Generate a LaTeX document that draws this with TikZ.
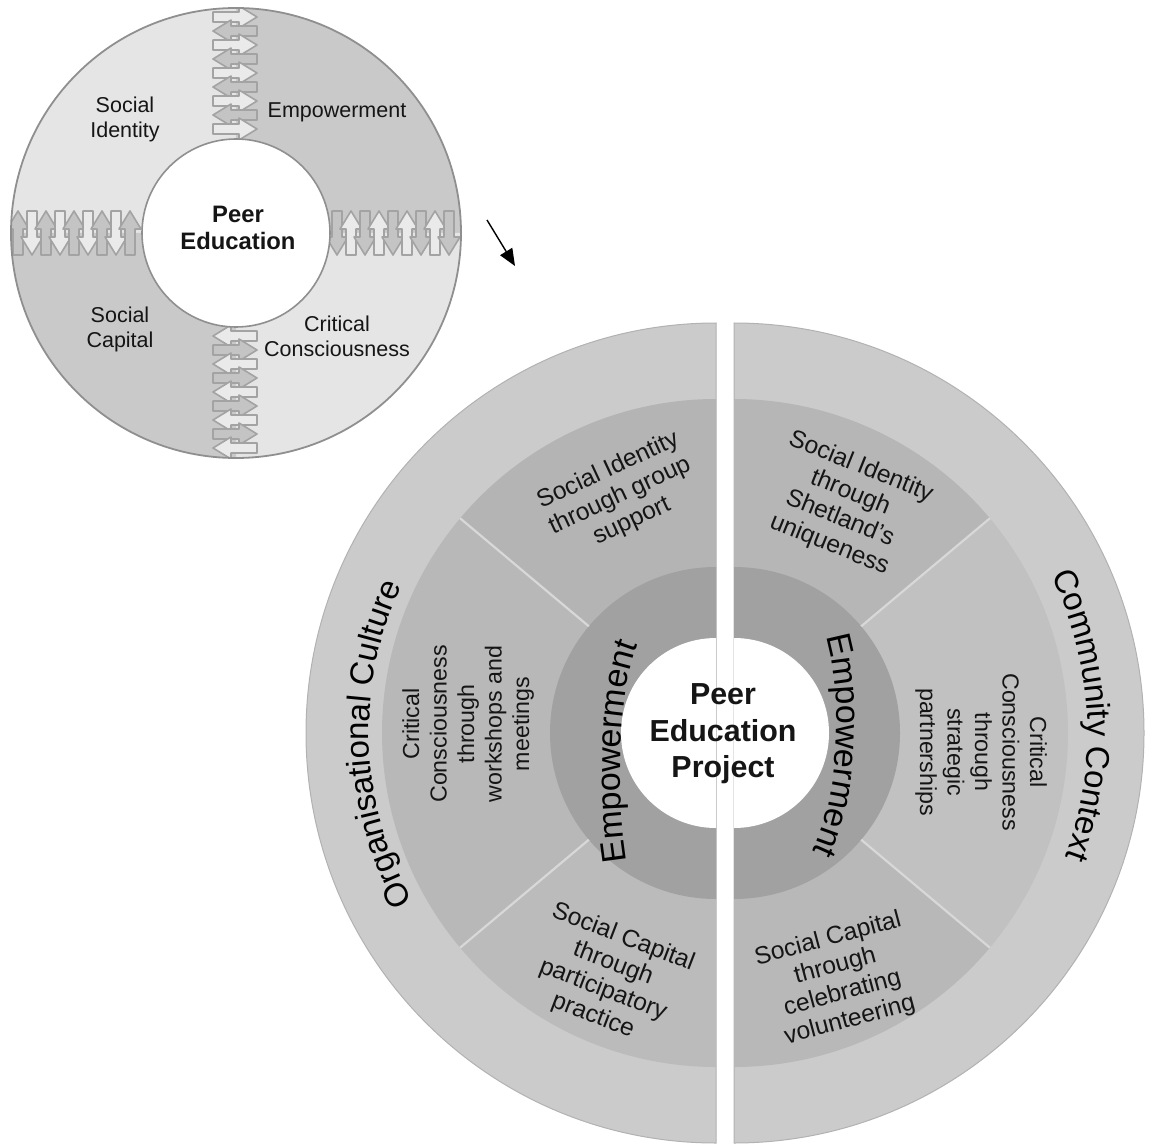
\documentclass[tikz,border=0pt]{standalone}
\usepackage{fontspec}
\setmainfont{Liberation Sans}
\usetikzlibrary{arrows.meta,decorations.text}
\definecolor{sLight}{HTML}{E5E5E5}
\definecolor{sDark}{HTML}{C9C9C9}
\definecolor{sLine}{HTML}{8F8F8F}
\definecolor{aLine}{HTML}{A3A3A3}
\definecolor{aDark}{HTML}{C4C4C4}
\definecolor{aLight}{HTML}{EAEAEA}
\definecolor{bOuter}{HTML}{CBCBCB}
\definecolor{bEdge}{HTML}{B2B2B2}
\definecolor{bEmp}{HTML}{A1A1A1}
\definecolor{bSep}{HTML}{D8D8D8}
\definecolor{bLT}{HTML}{B4B4B4}
\definecolor{bLM}{HTML}{B8B8B8}
\definecolor{bLB}{HTML}{BBBBBB}
\definecolor{bRT}{HTML}{B6B6B6}
\definecolor{bRM}{HTML}{C1C1C1}
\definecolor{bRB}{HTML}{B8B8B8}
\definecolor{txt}{HTML}{151515}
\newcommand\fntS{\fontsize{10.75}{12.5}\selectfont}
\newcommand\fntSB{\bfseries\fontsize{11.9}{13.5}\selectfont}
\newcommand\fntC{\bfseries\fontsize{15.2}{18.25}\selectfont}
\newcommand\fntSec{\fontsize{12.3}{14}\selectfont}
\newcommand\fntCC{\fontsize{11.6}{13.75}\selectfont}
\newcommand\fntOut{\fontsize{16.5}{16.5}\selectfont}
\newcommand\fntEmp{\fontsize{17}{17}\selectfont}
% interlocking arrows: horizontal right / left, vertical up / down
\newcommand\arHR[2]{\draw[#1] (213,{#2-5}) -- (239,{#2-5}) -- (239,{#2-11}) -- (257,#2) -- (239,{#2+11}) -- (239,{#2+5}) -- (213,{#2+5}) -- cycle;}
\newcommand\arHL[2]{\draw[#1] (257,{#2-5}) -- (231,{#2-5}) -- (231,{#2-11}) -- (213,#2) -- (231,{#2+11}) -- (231,{#2+5}) -- (257,{#2+5}) -- cycle;}
\newcommand\arVU[2]{\draw[#1] ({#2-5},255) -- ({#2-5},229) -- ({#2-11},229) -- (#2,211) -- ({#2+11},229) -- ({#2+5},229) -- ({#2+5},255) -- cycle;}
\newcommand\arVD[2]{\draw[#1] ({#2-5},211) -- ({#2-5},237) -- ({#2-11},237) -- (#2,255) -- ({#2+11},237) -- ({#2+5},237) -- ({#2+5},211) -- cycle;}
\tikzset{
  arrD/.style={fill=aDark, draw=aLine, line width=0.8pt, line join=round},
  arrL/.style={fill=aLight, draw=aLine, line width=0.8pt, line join=round},
  lbl/.style={text=txt, align=center, inner sep=0pt},
  sepline/.style={draw=bSep, line width=1.1pt},
}
\begin{document}
\begin{tikzpicture}[x=0.5pt,y=-0.5pt]
\useasboundingbox (0,0) rectangle (1150,1144);

% ---------------- small circle ----------------
\coordinate (sc) at (236,233);
\begin{scope}
  \clip (sc) circle[radius=225];
  \fill[sLight] (sc) -- ++(180:230) arc[start angle=180, end angle=270, radius=230] -- cycle;
  \fill[sDark]  (sc) -- ++(270:230) arc[start angle=270, end angle=360, radius=230] -- cycle;
  \fill[sLight] (sc) -- ++(0:230) arc[start angle=0, end angle=90, radius=230] -- cycle;
  \fill[sDark]  (sc) -- ++(90:230) arc[start angle=90, end angle=180, radius=230] -- cycle;
  % top column
  \arHR{arrL}{17}\arHL{arrD}{31}\arHR{arrL}{45}\arHL{arrD}{59}\arHR{arrL}{73}
  \arHL{arrD}{87}\arHR{arrL}{101}\arHL{arrD}{115}\arHR{arrL}{129}
  % bottom column
  \arHL{arrL}{336}\arHR{arrD}{350}\arHL{arrL}{364}\arHR{arrD}{378}\arHL{arrL}{392}
  \arHR{arrD}{406}\arHL{arrL}{420}\arHR{arrD}{434}\arHL{arrL}{448}
  % left row
  \arVU{arrD}{18}\arVD{arrL}{32}\arVU{arrD}{46}\arVD{arrL}{60}\arVU{arrD}{74}
  \arVD{arrL}{88}\arVU{arrD}{102}\arVD{arrL}{116}\arVU{arrD}{130}
  % right row
  \arVD{arrD}{337}\arVU{arrL}{351}\arVD{arrD}{365}\arVU{arrL}{379}\arVD{arrD}{393}
  \arVU{arrL}{407}\arVD{arrD}{421}\arVU{arrL}{435}\arVD{arrD}{449}
\end{scope}
\draw[sLine, line width=0.8pt, fill=white] (sc) circle[radius=94];
\draw[sLine, line width=0.9pt] (sc) circle[radius=225];

\node[lbl, font=\fntS] (sId) at (125,119) {Social\\Identity};
\node[lbl, font=\fntS] (sEm) at (337,112) {Empowerment};
\node[lbl, font=\fntS] (sCa) at (120,329) {Social\\Capital};
\node[lbl, font=\fntS] (sCC) at (337,336) {Critical\\Consciousness};
\node[lbl, font=\fntSB] (sPE) at (238,228) {Peer\\Education};

% ---------------- arrow ----------------
\coordinate (arS) at (487,220);
\coordinate (arE) at (515,266);
\draw[black, line width=0.7pt, -{Triangle[length=8.5pt,width=7pt]}] (arS) -- (arE);

% ---------------- big diagram ----------------
\coordinate (cL) at (716,733);
\coordinate (cR) at (734,733);
% left half
\filldraw[fill=bOuter, draw=bEdge, line width=0.5pt] (cL) ++(90:410) arc[start angle=90, end angle=270, radius=410] -- cycle;
\fill[bLT] (cL) -- ++(220:334) arc[start angle=220, end angle=270, radius=334] -- cycle;
\fill[bLM] (cL) -- ++(140:334) arc[start angle=140, end angle=220, radius=334] -- cycle;
\fill[bLB] (cL) -- ++(90:334) arc[start angle=90, end angle=140, radius=334] -- cycle;
\fill[bEmp] (cL) ++(90:166) arc[start angle=90, end angle=270, radius=166] -- cycle;
\fill[white] (cL) ++(90:95) arc[start angle=90, end angle=270, radius=95] -- cycle;
\draw[sepline] (cL) ++(220:166) -- ++(220:168);
\draw[sepline] (cL) ++(140:166) -- ++(140:168);
% right half
\filldraw[fill=bOuter, draw=bEdge, line width=0.5pt] (cR) ++(-90:410) arc[start angle=-90, end angle=90, radius=410] -- cycle;
\fill[bRT] (cR) -- ++(-90:334) arc[start angle=-90, end angle=-40, radius=334] -- cycle;
\fill[bRM] (cR) -- ++(-40:334) arc[start angle=-40, end angle=40, radius=334] -- cycle;
\fill[bRB] (cR) -- ++(40:334) arc[start angle=40, end angle=90, radius=334] -- cycle;
\fill[bEmp] (cR) ++(-90:166) arc[start angle=-90, end angle=90, radius=166] -- cycle;
\fill[white] (cR) ++(-90:95) arc[start angle=-90, end angle=90, radius=95] -- cycle;
\draw[sepline] (cR) ++(-40:166) -- ++(-40:168);
\draw[sepline] (cR) ++(40:166) -- ++(40:168);

% curved outer texts
\path[decorate, decoration={text along path, text align=center,
  text={|\fntOut|Organisational Culture}}]
  (cL) ++(138:347) arc[start angle=138, end angle=218, radius=347];
\path[decorate, decoration={text along path, text align=center,
  text={|\fntOut|Community Context}}]
  (cR) ++(-43:354) arc[start angle=-43, end angle=37, radius=354];

% empowerment texts
\coordinate (eL1) at (628,868);
\coordinate (eL2) at (640,638);
\coordinate (eR1) at (826,636);
\coordinate (eR2) at (812,852);
\path[decorate, decoration={text along path, text align=center,
  text={|\fntEmp|Empowerment}}]
  (eL1) .. controls (616,800) and (616,690) .. (eL2);
\path[decorate, decoration={text along path, text align=center,
  text={|\fntEmp|Empowerment}}]
  (eR1) .. controls (842,690) and (842,790) .. (eR2);

% sector texts
\node[lbl, font=\fntSec, rotate=25] (t1) at (620,496) {Social Identity\\through group\\support};
\node[lbl, font=\fntSec, rotate=-22] (t2) at (845,506) {Social Identity\\through\\Shetland’s\\uniqueness};
\node[lbl, font=\fntSec, rotate=-21] (t3) at (608,977) {Social Capital\\through\\participatory\\practice};
\node[lbl, font=\fntSec, rotate=15] (t4) at (839,980) {Social Capital\\through\\celebrating\\volunteering};
\node[lbl, font=\fntCC, rotate=90] (t5) at (468,724) {Critical\\Consciousness\\through\\workshops and\\meetings};
\node[lbl, font=\fntCC, rotate=-90] (t6) at (981,752) {Critical\\Consciousness\\through\\strategic\\partnerships};

\node[lbl, font=\fntC] (pep) at (723,734) {Peer\\Education\\Project};
\end{tikzpicture}
\end{document}
